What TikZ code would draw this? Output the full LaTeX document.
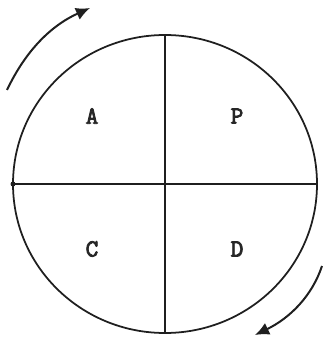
\documentclass[tikz,border=0pt]{standalone}
\usepackage{fontspec}
\usetikzlibrary{arrows.meta}
\newcommand{\heavytext}[1]{\special{pdf:code q 2 Tr 0.7 w}#1\special{pdf:code Q}}
\begin{document}
\begin{tikzpicture}[x=0.03cm,y=-0.03cm,
  line/.style={line width=1.5pt,black!88},
  rotarrow/.style={line width=1.7pt,black!88,-{Latex[length=12pt,width=11pt]}},
  lab/.style={font=\ttfamily\fontsize{21}{21}\selectfont,text=black!85}]
\useasboundingbox (0,0) rectangle (326,342);
\coordinate (c) at (165,184);
\draw[line] (c) ellipse [x radius=152, y radius=149];
\coordinate (top) at (165,35);
\coordinate (bot) at (165,333);
\coordinate (lft) at (13,184);
\coordinate (rgt) at (317,184);
\draw[line] (top) -- (bot);
\draw[line] (lft) -- (rgt);
\fill[black!88] (lft) circle (2.5);
\node[lab] (A) at (92,116) {\heavytext{A}};
\node[lab] (P) at (237,116) {\heavytext{P}};
\node[lab] (C) at (92,249) {\heavytext{C}};
\node[lab] (D) at (237,249) {\heavytext{D}};
\coordinate (a1) at (7,90);
\coordinate (a2) at (90,8);
\draw[rotarrow] (a1) .. controls (25,52) and (50,26) .. (a2);
\coordinate (b1) at (322,266);
\coordinate (b2) at (255,335);
\draw[rotarrow] (b1) .. controls (312,296) and (290,318) .. (b2);
\end{tikzpicture}
\end{document}
